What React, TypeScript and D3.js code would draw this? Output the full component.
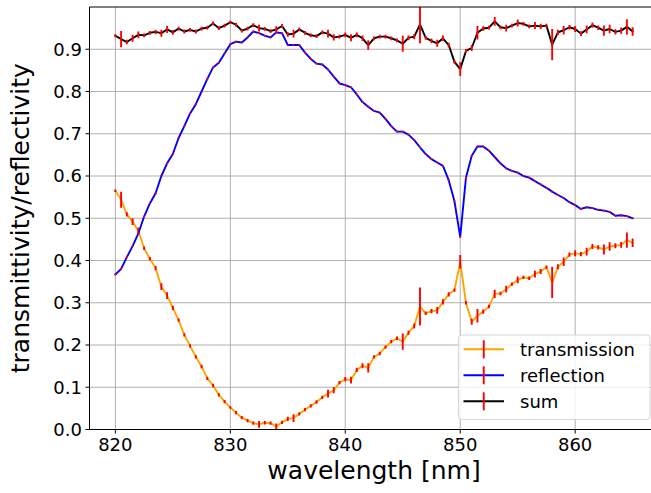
import React from 'react';
import * as d3 from 'd3';

const wavelength = [
  820, 820.5, 821, 821.5, 822, 822.5, 823, 823.5, 824, 824.5,
  825, 825.5, 826, 826.5, 827, 827.5, 828, 828.5, 829, 829.5,
  830, 830.5, 831, 831.5, 832, 832.5, 833, 833.5, 834, 834.5,
  835, 835.5, 836, 836.5, 837, 837.5, 838, 838.5, 839, 839.5,
  840, 840.5, 841, 841.5, 842, 842.5, 843, 843.5, 844, 844.5,
  845, 845.5, 846, 846.5, 847, 847.5, 848, 848.5, 849, 849.5,
  850, 850.5, 851, 851.5, 852, 852.5, 853, 853.5, 854, 854.5,
  855, 855.5, 856, 856.5, 857, 857.5, 858, 858.5, 859, 859.5,
  860, 860.5, 861, 861.5, 862, 862.5, 863, 863.5, 864, 864.5,
  865,
];

const transmission = [
  0.565, 0.544, 0.509, 0.492, 0.470, 0.429, 0.404, 0.382, 0.338, 0.317,
  0.288, 0.259, 0.224, 0.198, 0.172, 0.149, 0.121, 0.104, 0.082, 0.066,
  0.052, 0.040, 0.028, 0.021, 0.015, 0.012, 0.016, 0.015, 0.007, 0.017,
  0.025, 0.027, 0.037, 0.047, 0.056, 0.065, 0.076, 0.085, 0.093, 0.111,
  0.119, 0.117, 0.141, 0.151, 0.146, 0.172, 0.180, 0.195, 0.208, 0.216,
  0.208, 0.229, 0.245, 0.291, 0.275, 0.280, 0.282, 0.302, 0.320, 0.330,
  0.397, 0.300, 0.255, 0.269, 0.279, 0.291, 0.321, 0.322, 0.332, 0.344,
  0.354, 0.360, 0.358, 0.368, 0.374, 0.384, 0.348, 0.385, 0.397, 0.414,
  0.417, 0.415, 0.421, 0.433, 0.431, 0.426, 0.433, 0.435, 0.437, 0.448,
  0.442,
];

const reflection = [
  0.367, 0.380, 0.408, 0.434, 0.464, 0.504, 0.535, 0.559, 0.600, 0.630,
  0.652, 0.690, 0.718, 0.748, 0.770, 0.800, 0.830, 0.857, 0.868, 0.890,
  0.912, 0.918, 0.916, 0.928, 0.942, 0.938, 0.932, 0.928, 0.940, 0.938,
  0.910, 0.910, 0.910, 0.892, 0.877, 0.866, 0.864, 0.852, 0.835, 0.819,
  0.815, 0.810, 0.793, 0.775, 0.764, 0.754, 0.750, 0.735, 0.718, 0.705,
  0.705, 0.698, 0.685, 0.668, 0.652, 0.640, 0.632, 0.624, 0.590, 0.540,
  0.456, 0.596, 0.648, 0.670, 0.670, 0.660, 0.645, 0.630, 0.618, 0.612,
  0.608, 0.600, 0.596, 0.588, 0.580, 0.572, 0.563, 0.555, 0.548, 0.538,
  0.531, 0.522, 0.526, 0.524, 0.520, 0.518, 0.515, 0.506, 0.507, 0.505,
  0.500,
];

const transmissionErr = [
  0.003, 0.019, 0.005, 0.008, 0.008, 0.004, 0.004, 0.005, 0.008, 0.008,
  0.005, 0.004, 0.004, 0.004, 0.004, 0.004, 0.004, 0.004, 0.004, 0.004,
  0.003, 0.004, 0.004, 0.004, 0.004, 0.008, 0.004, 0.004, 0.007, 0.004,
  0.005, 0.009, 0.004, 0.004, 0.004, 0.004, 0.004, 0.009, 0.007, 0.004,
  0.005, 0.008, 0.005, 0.006, 0.011, 0.004, 0.004, 0.004, 0.004, 0.004,
  0.019, 0.005, 0.006, 0.045, 0.004, 0.005, 0.008, 0.006, 0.005, 0.004,
  0.016, 0.004, 0.007, 0.016, 0.005, 0.004, 0.010, 0.004, 0.008, 0.004,
  0.008, 0.004, 0.004, 0.008, 0.006, 0.004, 0.037, 0.006, 0.010, 0.005,
  0.007, 0.005, 0.009, 0.006, 0.005, 0.012, 0.010, 0.006, 0.007, 0.018,
  0.010,
];

const reflectionErr = wavelength.map(() => 0.002);

const xTicks = [820, 830, 840, 850, 860];
const yTicks = [0.0, 0.1, 0.2, 0.3, 0.4, 0.5, 0.6, 0.7, 0.8, 0.9];
const seriesNames = ['transmission', 'reflection', 'sum'];
const seriesColors = ['orange', 'blue', 'black'];
const errColor = 'red';

const W = 651;
const H = 493;
const FONT = 'DejaVu Sans';

export default function App() {
  const left = 89.5, right = 658.5, top = 7, bottom = 429.5;
  const x = d3.scaleLinear().domain([817.75, 867.25]).range([left, right]);
  const y = d3.scaleLinear().domain([0, 1]).range([bottom, top]);

  const sum = transmission.map((t, i) => t + reflection[i]);
  const sumErr = transmissionErr.map((e, i) => Math.sqrt(e * e + reflectionErr[i] * reflectionErr[i]));

  const series = [
    { values: transmission, errs: transmissionErr },
    { values: reflection, errs: reflectionErr },
    { values: sum, errs: sumErr },
  ];

  const line = d3.line<number>().x((_, i) => x(wavelength[i])).y((d) => y(d));

  const legendX = 458.5, legendY = 335, legendW = 191.5, legendH = 84.5;
  const rowY = [349.3, 375.3, 401.3];

  return (
    <svg width={W} height={H} style={{ position: 'absolute', left: 0, top: 0, background: 'white' }} fontFamily={FONT}>
      <defs>
        <clipPath id="plotclip">
          <rect x={left} y={top} width={right - left} height={bottom - top} />
        </clipPath>
      </defs>
      <rect x={0} y={0} width={W} height={H} fill="white" />
      {/* grid */}
      <g stroke="#b0b0b0" strokeWidth={1}>
        {xTicks.map((t) => (
          <line key={'gx' + t} x1={x(t)} x2={x(t)} y1={top} y2={bottom} />
        ))}
        {yTicks.map((t) => (
          <line key={'gy' + t} x1={left} x2={right} y1={y(t)} y2={y(t)} />
        ))}
      </g>
      {/* series */}
      <g clipPath="url(#plotclip)">
        {series.map((s, si) => (
          <g key={'s' + si}>
            <path d={line(s.values) || ''} fill="none" stroke={seriesColors[si]} strokeWidth={1.9} strokeLinejoin="round" strokeLinecap="square" />
            <g stroke={errColor} strokeWidth={1.9}>
              {s.values.map((v, i) => (
                <line key={i} x1={x(wavelength[i])} x2={x(wavelength[i])} y1={y(v - s.errs[i])} y2={y(v + s.errs[i])} />
              ))}
            </g>
          </g>
        ))}
      </g>
      {/* spines */}
      <g stroke="black" strokeWidth={1} fill="none">
        <line x1={left} x2={left} y1={top} y2={bottom} />
        <line x1={left} x2={right} y1={bottom} y2={bottom} />
        <line x1={left} x2={right} y1={top} y2={top} />
        <line x1={right} x2={right} y1={top} y2={bottom} />
      </g>
      {/* x ticks */}
      <g>
        {xTicks.map((t) => (
          <g key={'xt' + t}>
            <line x1={x(t)} x2={x(t)} y1={bottom} y2={bottom + 4} stroke="black" strokeWidth={1} />
            <text x={x(t)} y={bottom + 7.5} dy="0.76em" textAnchor="middle" fontSize={18} fill="black">
              {t}
            </text>
          </g>
        ))}
      </g>
      {/* y ticks */}
      <g>
        {yTicks.map((t) => (
          <g key={'yt' + t}>
            <line x1={left - 4} x2={left} y1={y(t)} y2={y(t)} stroke="black" strokeWidth={1} />
            <text x={left - 7.5} y={y(t)} dy="0.36em" textAnchor="end" fontSize={18} fill="black">
              {t.toFixed(1)}
            </text>
          </g>
        ))}
      </g>
      {/* axis labels */}
      <text x={(left + right) / 2} y={479} textAnchor="middle" fontSize={25} fill="black">
        wavelength [nm]
      </text>
      <text transform={`translate(29, ${(top + bottom) / 2}) rotate(-90)`} textAnchor="middle" fontSize={25} fill="black">
        transmittivity/reflectivity
      </text>
      {/* legend */}
      <g>
        <rect x={legendX} y={legendY} width={legendW} height={legendH} rx={3} ry={3} fill="white" fillOpacity={0.8} stroke="#cccccc" strokeOpacity={0.8} strokeWidth={1} />
        {seriesNames.map((name, i) => (
          <g key={'lg' + name}>
            <line x1={463.5} x2={504} y1={rowY[i]} y2={rowY[i]} stroke={seriesColors[i]} strokeWidth={1.9} />
            <line x1={483.75} x2={483.75} y1={rowY[i] - 9} y2={rowY[i] + 9} stroke={errColor} strokeWidth={1.9} />
            <text x={520} y={rowY[i]} dy="0.36em" fontSize={18} fill="black">
              {name}
            </text>
          </g>
        ))}
      </g>
    </svg>
  );
}
